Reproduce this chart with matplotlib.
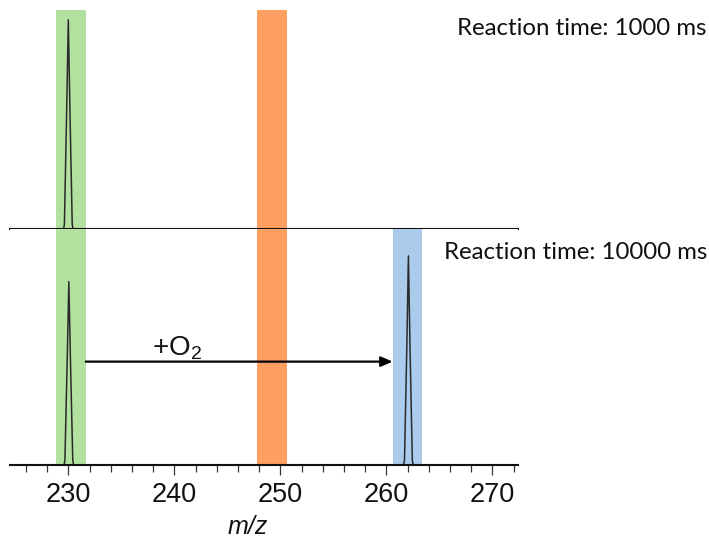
import matplotlib
matplotlib.use("Agg")
import matplotlib.pyplot as plt
from matplotlib.ticker import MultipleLocator

plt.rcParams["font.family"] = ["Liberation Sans", "DejaVu Sans"]
plt.rcParams["mathtext.fontset"] = "custom"
plt.rcParams["mathtext.rm"] = "Liberation Sans"
plt.rcParams["mathtext.it"] = "Liberation Sans:italic"

# isolation windows (m/z)
win_lo = [228.8, 247.8, 260.6]
win_hi = [231.65, 250.6, 263.4]
win_colors = ["#b2e1a0", "#ffa062", "#aacbeb"]

# 1000 ms spectrum (relative intensity)
top_mz = [229.55, 229.63, 229.85, 230.0, 230.15, 230.37, 230.45]
top_int = [0, 0.02, 0.55, 0.955, 0.55, 0.02, 0]

# 10000 ms spectrum
bot_mz_a = [229.6, 229.68, 229.9, 230.05, 230.2, 230.42, 230.5]
bot_int_a = [0, 0.02, 0.45, 0.777, 0.45, 0.02, 0]
bot_mz_b = [261.63, 261.71, 261.93, 262.08, 262.23, 262.45, 262.53]
bot_int_b = [0, 0.02, 0.5, 0.886, 0.5, 0.02, 0]

labels = ["Reaction time: 1000 ms", "Reaction time: 10000 ms"]
xmin, xmax = 224.5, 272.45

fig = plt.figure(figsize=(7.09, 5.42), dpi=100)
ax1 = fig.add_axes([0.0141, 0.5775, 0.717, 0.404])
ax2 = fig.add_axes([0.0141, 0.1421, 0.717, 0.4354])

for ax in (ax1, ax2):
    ax.set_xlim(xmin, xmax)
    ax.set_ylim(0, 1)
    for s in ("top", "left", "right"):
        ax.spines[s].set_visible(False)
    ax.spines["bottom"].set_linewidth(1.5)
    ax.spines["bottom"].set_color("#111111")
    ax.spines["bottom"].set_zorder(5)
    ax.set_yticks([])

# top panel: green + orange windows
for i in (0, 1):
    ax1.axvspan(win_lo[i], win_hi[i], color=win_colors[i], lw=0, zorder=0)
for i in (0, 1, 2):
    ax2.axvspan(win_lo[i], win_hi[i], color=win_colors[i], lw=0, zorder=0)

ax1.plot(top_mz, top_int, color="#2a2a2a", lw=1.1, zorder=3)
ax2.plot(bot_mz_a, bot_int_a, color="#2a2a2a", lw=1.1, zorder=3)
ax2.plot(bot_mz_b, bot_int_b, color="#2a2a2a", lw=1.1, zorder=3)

ax1.set_xticks([])
ax2.xaxis.set_major_locator(MultipleLocator(10))
ax2.xaxis.set_minor_locator(MultipleLocator(2))
ax2.tick_params(axis="x", which="major", length=7.5, width=0.9, color="#333333",
                pad=5.0, labelsize=19.5, labelcolor="#111111")
ax2.tick_params(axis="x", which="minor", length=5, width=0.9, color="#333333")

# +O2 arrow
ax2.annotate("", xy=(win_lo[2], 0.438), xytext=(win_hi[0], 0.438),
             arrowprops=dict(arrowstyle="-|>,head_length=0.7,head_width=0.3",
                             color="black", lw=1.6, shrinkA=0, shrinkB=0))
fig.text(151.7 / 709, 1 - 355 / 542, r"+O$_\mathregular{2}$", fontsize=20,
         ha="left", va="baseline", color="#111111")

fig.text(457 / 709, 1 - 35 / 542, labels[0], fontsize=17.3, family=["Lato", "DejaVu Sans"],
         ha="left", va="baseline", color="#111111")
fig.text(444 / 709, 1 - 259.3 / 542, labels[1], fontsize=17.3, family=["Lato", "DejaVu Sans"],
         ha="left", va="baseline", color="#111111")

fig.text(248 / 709, 1 - 534 / 542, "m/z", fontsize=18, style="italic",
         ha="center", va="baseline", color="#111111")

fig.savefig("out.png", dpi=100)
